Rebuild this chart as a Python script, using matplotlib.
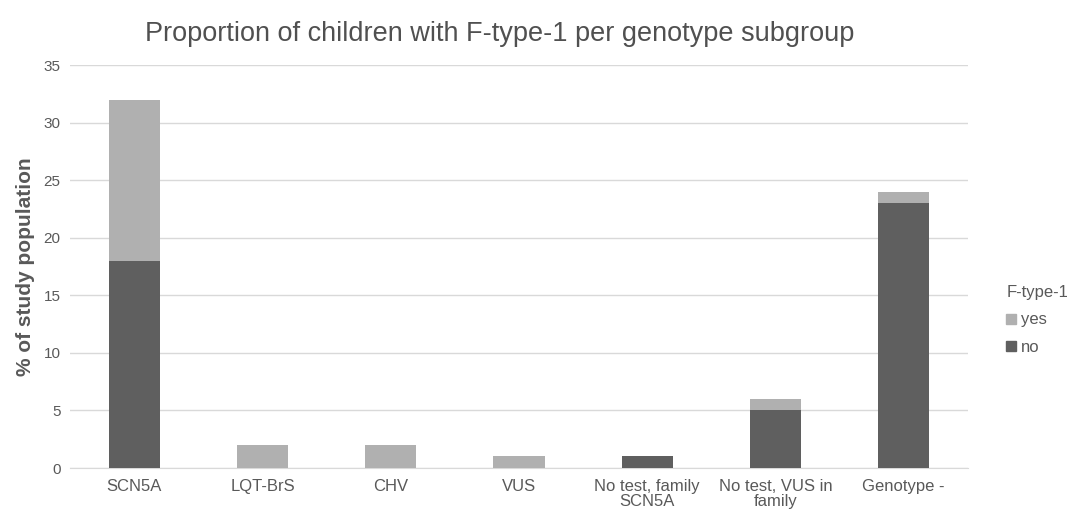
import matplotlib
matplotlib.use("Agg")
import matplotlib.pyplot as plt
import numpy as np
from matplotlib.patches import Patch

plt.rcParams['font.family'] = ['Liberation Sans', 'DejaVu Sans']

# genotype subgroups and % of study population
categories = ["SCN5A", "LQT-BrS", "CHV", "VUS",
              "No test, family\nSCN5A", "No test, VUS in\nfamily", "Genotype -"]
no_vals = [18, 0, 0, 0, 1, 5, 23]
yes_vals = [14, 2, 2, 1, 0, 1, 1]

text_col = "#595959"
col_no = "#5f5f5f"
col_yes = "#b0b0b0"

fig = plt.figure(figsize=(10.8, 5.16), dpi=100)
ax = fig.add_axes([0.065, 0.093, 0.831, 0.781])

x = np.arange(len(categories))
ax.bar(x, no_vals, width=0.4, color=col_no, label="no", zorder=3)
ax.bar(x, yes_vals, width=0.4, bottom=no_vals, color=col_yes, label="yes", zorder=3)

ax.set_ylim(0, 35)
ax.set_xlim(-0.5, len(categories) - 0.5)
ax.set_yticks(range(0, 36, 5))
ax.set_xticks(x)
ax.set_xticklabels(categories, fontsize=12, color=text_col, linespacing=1.0)
ax.tick_params(axis='y', labelsize=11, labelcolor=text_col, length=0, pad=7)
ax.tick_params(axis='x', length=0, pad=8)
ax.grid(axis='y', color="#d9d9d9", linewidth=1, zorder=0)
for s in ["top", "right", "left"]:
    ax.spines[s].set_visible(False)
ax.spines["bottom"].set_color("#d9d9d9")

ax.set_ylabel("% of study population", fontsize=15, fontweight="bold",
              color=text_col, labelpad=6)

fig.text(0.463, 0.935, "Proportion of children with F-type-1 per genotype subgroup",
         ha="center", va="center", fontsize=19.5, color="#505050")

handles = [Patch(color=col_yes), Patch(color=col_no)]
leg = fig.legend(handles, ["yes", "no"], title="F-type-1", loc="center left",
                 bbox_to_anchor=(0.918, 0.38), frameon=False, fontsize=12,
                 title_fontsize=12, handlelength=0.55, handleheight=0.55,
                 handletextpad=0.3, labelspacing=0.75)
for t in leg.get_texts():
    t.set_color(text_col)
leg.get_title().set_color(text_col)
leg._legend_box.align = "left"

fig.savefig("out.png", dpi=100)
